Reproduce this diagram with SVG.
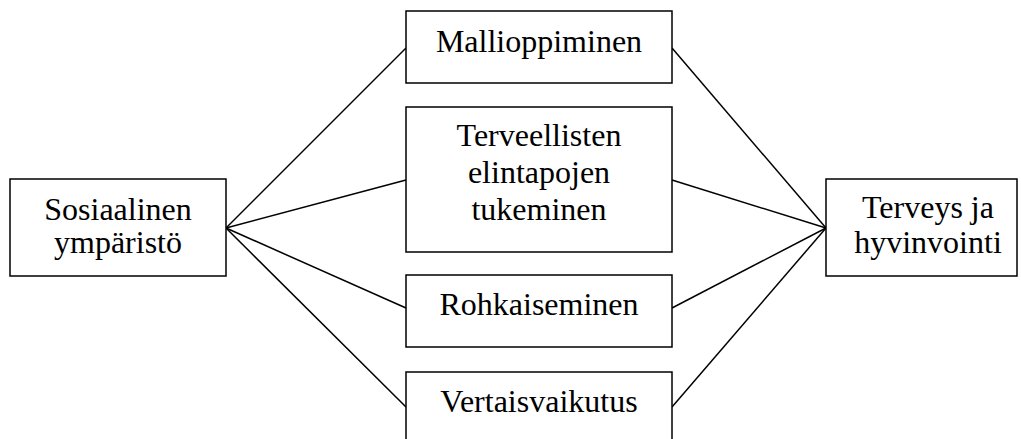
<svg xmlns="http://www.w3.org/2000/svg" width="1021" height="439" viewBox="0 0 1021 439">
  <style>
    .box { fill: #ffffff; stroke: #000000; stroke-width: 1.5; }
    .link { stroke: #000000; stroke-width: 1.5; fill: none; }
    .label { font-family: "Liberation Serif", "Times New Roman", serif; font-size: 32px; fill: #000000; text-anchor: middle; }
  </style>
  <rect width="1021" height="439" fill="#ffffff"/>

  <g id="connectors">
    <line class="link" x1="226" y1="228" x2="406" y2="48"/>
    <line class="link" x1="226" y1="228" x2="406" y2="180"/>
    <line class="link" x1="226" y1="228" x2="406" y2="308"/>
    <line class="link" x1="226" y1="228" x2="406" y2="407"/>
    <line class="link" x1="672" y1="48" x2="826" y2="228"/>
    <line class="link" x1="672" y1="180" x2="826" y2="228"/>
    <line class="link" x1="672" y1="308" x2="826" y2="228"/>
    <line class="link" x1="672" y1="407" x2="826" y2="228"/>
  </g>

  <g id="sosiaalinen">
    <rect class="box" x="10" y="179" width="216" height="97"/>
    <text class="label" x="118" y="220">Sosiaalinen</text>
    <text class="label" x="118" y="253">ympäristö</text>
  </g>

  <g id="mallioppiminen">
    <rect class="box" x="406" y="11" width="266" height="72"/>
    <text class="label" x="539" y="52">Mallioppiminen</text>
  </g>

  <g id="elintavat">
    <rect class="box" x="406" y="107" width="266" height="145"/>
    <text class="label" x="539" y="146">Terveellisten</text>
    <text class="label" x="539" y="183">elintapojen</text>
    <text class="label" x="539" y="220">tukeminen</text>
  </g>

  <g id="rohkaiseminen">
    <rect class="box" x="406" y="275" width="266" height="72"/>
    <text class="label" x="539" y="315">Rohkaiseminen</text>
  </g>

  <g id="vertaisvaikutus">
    <rect class="box" x="406" y="372" width="266" height="80"/>
    <text class="label" x="539" y="412">Vertaisvaikutus</text>
  </g>

  <g id="terveys">
    <rect class="box" x="826" y="179" width="191" height="97"/>
    <text class="label" x="928" y="218">Terveys ja</text>
    <text class="label" x="928" y="253">hyvinvointi</text>
  </g>
</svg>
